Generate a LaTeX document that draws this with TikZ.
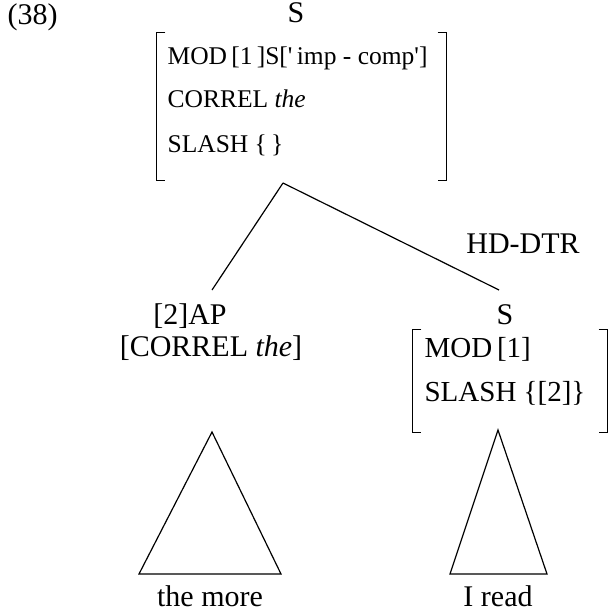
\documentclass[tikz,border=0pt]{standalone}
\usepackage{fontspec}
\setmainfont{Liberation Serif}
\usetikzlibrary{positioning}
\tikzset{lab/.style = {font=\fontsize{30}{30}\selectfont, inner sep=0pt}}
\tikzset{row/.style = {font=\fontsize{29}{29}\selectfont, inner sep=0pt, anchor=base west}}
\tikzset{toprow/.style = {row, font=\fontsize{25.5}{25.5}\selectfont}}
\tikzset{brk/.style = {line width=1.2pt}}
\tikzset{avmbox/.style = {inner sep=0pt}}

\begin{document}
\begin{tikzpicture}[x=1pt,y=-1pt,line width=1.2pt]
                    \useasboundingbox (0,0) rectangle (608,613);

                    \node[lab, anchor=base west] (ex) at (7,24) {(38)};
                    \node[lab, anchor=base] (S0) at (296,23) {S};

                    % top feature structure
                    \node[avmbox, minimum width=289pt, minimum height=147pt] (F0) at (301.5,106.5) {};
                    \node[toprow] (F0a) at (167,64) {MOD\,[1\,]S[\textquotesingle\,imp - comp\textquotesingle]};
                    \node[toprow] (F0b) at (167,107) {CORREL \textit{the}};
                    \node[toprow] (F0c) at (167,152) {SLASH \{\,\}};
                    \draw[brk] ([xshift=9pt]F0.north west) -| (F0.south west) -- ++(9pt,0);
                    \draw[brk] ([xshift=-9pt]F0.north east) -| (F0.south east) -- ++(-9pt,0);

                    \coordinate (top) at (283,183);
                    \coordinate (L) at (212,290);
                    \coordinate (R) at (499,290);
                    \draw (top) -- (L);
                    \draw (top) -- (R);
                    \node[lab, anchor=base] (hd) at (523,253) {HD-DTR};

                    % left daughter
                    \node[lab, anchor=base] (AP) at (190,324) {[2]AP};
                    \node[lab, anchor=base] (APf) at (211,356) {[CORREL \textit{the}]};

                    % right daughter
                    \node[lab, anchor=base] (S1) at (505,324) {S};
                    \node[avmbox, minimum width=194pt, minimum height=102pt] (F1) at (510,381) {};
                    \node[row] (F1a) at (424,357) {MOD\,[1]};
                    \node[row] (F1b) at (424,401) {SLASH \{[2]\}};
                    \draw[brk] ([xshift=9pt]F1.north west) -| (F1.south west) -- ++(9pt,0);
                    \draw[brk] ([xshift=-9pt]F1.north east) -| (F1.south east) -- ++(-9pt,0);

                    % roofs
                    \coordinate (T1) at (212,432);
                    \coordinate (T1l) at (139,574);
                    \coordinate (T1r) at (281,574);
                    \draw (T1) -- (T1l) -- (T1r) -- cycle;
                    \coordinate (T2) at (498,430);
                    \coordinate (T2l) at (450,574);
                    \coordinate (T2r) at (547,574);
                    \draw (T2) -- (T2l) -- (T2r) -- cycle;

                    \node[lab, anchor=base] (w1) at (210,606) {the more};
                    \node[lab, anchor=base] (w2) at (498,606) {I read};
                \end{tikzpicture}
\end{document}
